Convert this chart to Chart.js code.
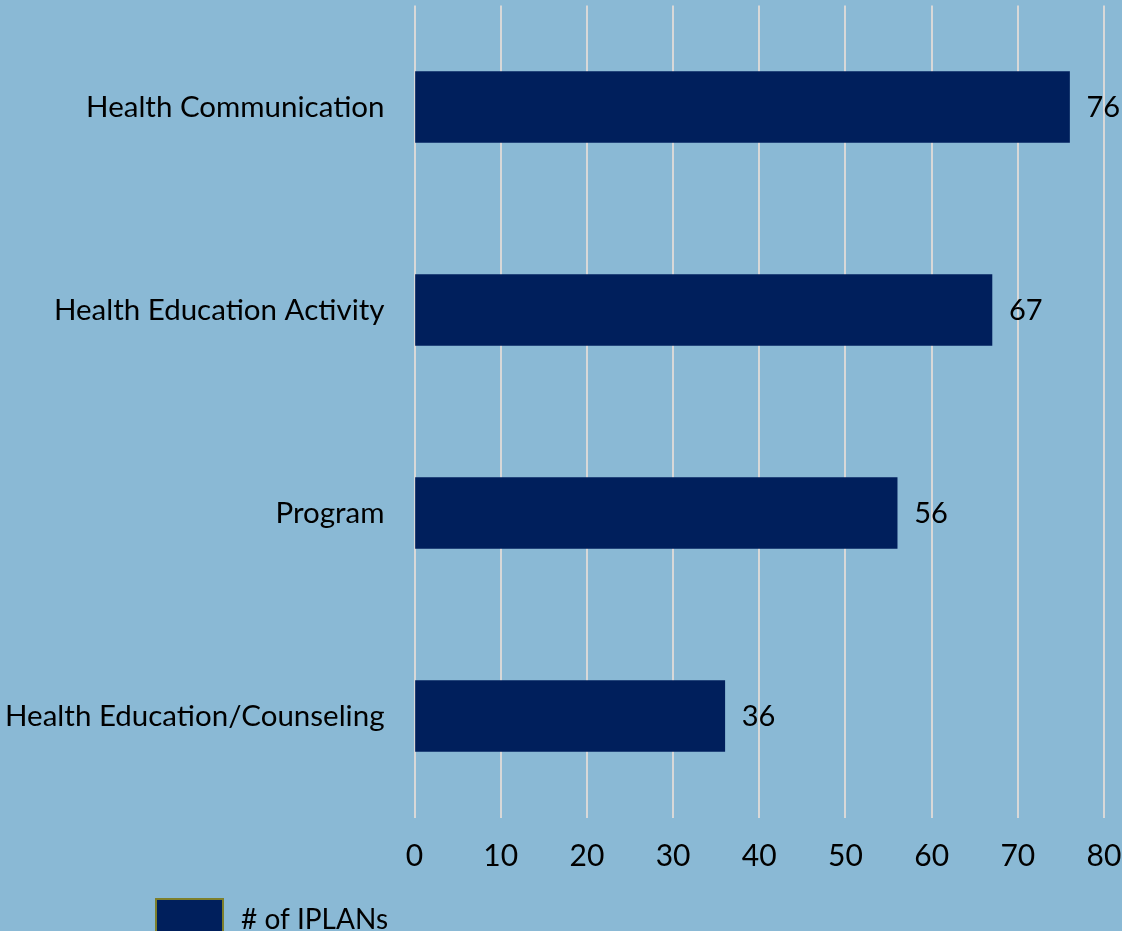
<!DOCTYPE html>
<html>
<head>
<meta charset="utf-8">
<script src="https://cdn.jsdelivr.net/npm/chart.js@4.4.1/dist/chart.umd.min.js"></script>
<style>
  html, body { margin: 0; padding: 0; background: #8ab9d5; }
  #wrap { width: 1122px; height: 931px; position: relative; }
</style>
</head>
<body>
<div id="wrap"><canvas id="chart" width="1122" height="931"></canvas></div>
<script>
const categories = [
  'Health Communication',
  'Health Education Activity',
  'Program',
  'Health Education/Counseling'
];
const iplanCounts = [76, 67, 56, 36];
const seriesLabel = '# of IPLANs';
const xTicks = [0, 10, 20, 30, 40, 50, 60, 70, 80];

const FONT = 'Lato, "Open Sans", sans-serif';
const BG = '#8ab9d5';
const BAR = '#001f5c';

// value labels to the right of each bar
const valueLabels = {
  id: 'valueLabels',
  afterDatasetsDraw(chart) {
    const ctx = chart.ctx;
    const meta = chart.getDatasetMeta(0);
    ctx.save();
    ctx.font = '29px ' + FONT;
    ctx.fillStyle = '#000';
    ctx.textAlign = 'left';
    ctx.textBaseline = 'middle';
    meta.data.forEach((bar, i) => {
      ctx.fillText(String(chart.data.datasets[0].data[i]), bar.x + 17, bar.y + 1);
    });
    ctx.restore();
  }
};

// series key at the lower left
const seriesKey = {
  id: 'seriesKey',
  afterDraw(chart) {
    const ctx = chart.ctx;
    const ds = chart.data.datasets[0];
    ctx.save();
    ctx.fillStyle = ds.backgroundColor;
    ctx.fillRect(155, 898, 69, 40);
    ctx.strokeStyle = '#7d7f2c';
    ctx.lineWidth = 2;
    ctx.strokeRect(156, 899, 67, 40);
    ctx.font = '28px ' + FONT;
    ctx.fillStyle = '#000';
    ctx.textAlign = 'left';
    ctx.textBaseline = 'alphabetic';
    ctx.fillText(ds.label, 241, 929);
    ctx.restore();
  }
};

const chartBg = {
  id: 'chartBg',
  beforeDraw(chart) {
    const ctx = chart.ctx;
    ctx.save();
    ctx.fillStyle = BG;
    ctx.fillRect(0, 0, chart.width, chart.height);
    ctx.restore();
  }
};

new Chart(document.getElementById('chart'), {
  type: 'bar',
  data: {
    labels: categories,
    datasets: [{
      label: seriesLabel,
      data: iplanCounts,
      backgroundColor: BAR,
      borderWidth: 0,
      barThickness: 71
    }]
  },
  options: {
    indexAxis: 'y',
    responsive: false,
    animation: false,
    devicePixelRatio: 1,
    layout: { padding: { top: 5.5, right: 18, bottom: 0, left: 0 } },
    plugins: {
      legend: { display: false },
      tooltip: { enabled: false }
    },
    scales: {
      x: {
        min: 0,
        max: 80,
        afterBuildTicks(scale) {
          scale.ticks = xTicks.map(v => ({ value: v }));
        },
        afterFit(scale) {
          scale.height = 113.5;
          scale.paddingLeft = 0;
          scale.paddingRight = 0;
        },
        border: { display: false },
        grid: { color: '#d8d8d8', lineWidth: 2, drawTicks: false },
        ticks: {
          color: '#000',
          font: { family: FONT, size: 30 },
          padding: 21,
          maxRotation: 0
        }
      },
      y: {
        afterFit(scale) {
          scale.width = 414.5;
          scale.paddingTop = 0;
          scale.paddingBottom = 0;
        },
        border: { display: false },
        grid: { display: false, drawTicks: false },
        ticks: {
          color: '#000',
          font: { family: FONT, size: 29.5 },
          padding: 30
        }
      }
    }
  },
  plugins: [chartBg, valueLabels, seriesKey]
});
</script>
</body>
</html>
